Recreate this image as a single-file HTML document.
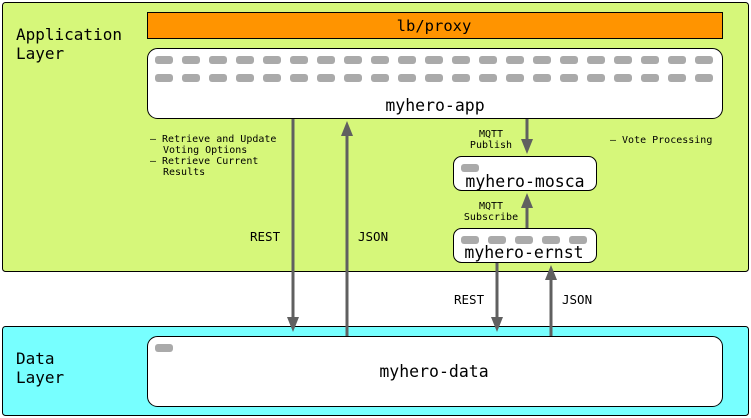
<!DOCTYPE html>
<html><head><meta charset="utf-8"><style>
body{margin:0;background:#fff}
svg{display:block}
text{font-family:"DejaVu Sans Mono","Liberation Mono",monospace;fill:#000}
</style></head><body>
<svg width="751" height="418" viewBox="0 0 751 418" xmlns="http://www.w3.org/2000/svg">
<defs><marker id="a" markerWidth="5" markerHeight="4" refX="2" refY="2" orient="auto" markerUnits="strokeWidth"><path d="M0,0 L5,2 L0,4z" fill="#606060"/></marker></defs>
<rect x="2.5" y="2.5" width="746" height="269" rx="3" fill="#d6f77a" stroke="#000"/>
<rect x="2.5" y="326.5" width="746" height="89" rx="3" fill="#77ffff" stroke="#000"/>
<text x="16" y="40" font-size="16">Application</text>
<text x="16" y="59" font-size="16">Layer</text>
<text x="16" y="364" font-size="16">Data</text>
<text x="16" y="383" font-size="16">Layer</text>
<rect x="147.5" y="12.5" width="575" height="26" fill="#ff9400" stroke="#000"/>
<text x="434" y="31" font-size="15.5" text-anchor="middle">lb/proxy</text>
<rect x="147.5" y="48.5" width="575" height="70" rx="10" fill="#fff" stroke="#000"/>
<g fill="#aaa" id="dr">
<rect x="155" y="56" width="18" height="8" rx="3"/><rect x="182" y="56" width="18" height="8" rx="3"/><rect x="209" y="56" width="18" height="8" rx="3"/><rect x="236" y="56" width="18" height="8" rx="3"/><rect x="263" y="56" width="18" height="8" rx="3"/><rect x="290" y="56" width="18" height="8" rx="3"/><rect x="317" y="56" width="18" height="8" rx="3"/><rect x="344" y="56" width="18" height="8" rx="3"/><rect x="371" y="56" width="18" height="8" rx="3"/><rect x="398" y="56" width="18" height="8" rx="3"/><rect x="425" y="56" width="18" height="8" rx="3"/><rect x="452" y="56" width="18" height="8" rx="3"/><rect x="479" y="56" width="18" height="8" rx="3"/><rect x="506" y="56" width="18" height="8" rx="3"/><rect x="533" y="56" width="18" height="8" rx="3"/><rect x="560" y="56" width="18" height="8" rx="3"/><rect x="587" y="56" width="18" height="8" rx="3"/><rect x="614" y="56" width="18" height="8" rx="3"/><rect x="641" y="56" width="18" height="8" rx="3"/><rect x="668" y="56" width="18" height="8" rx="3"/><rect x="695" y="56" width="18" height="8" rx="3"/>
</g>
<use href="#dr" y="18"/>
<text x="435" y="111" font-size="16.5" text-anchor="middle">myhero-app</text>
<text font-size="10"><tspan x="150" y="142">– Retrieve and Update</tspan><tspan x="163" y="153">Voting Options</tspan><tspan x="150" y="164">– Retrieve Current</tspan><tspan x="163" y="175">Results</tspan></text>
<text x="610" y="143" font-size="10">– Vote Processing</text>
<text font-size="10" text-anchor="middle"><tspan x="491" y="137">MQTT</tspan><tspan x="491" y="148">Publish</tspan><tspan x="491" y="209">MQTT</tspan><tspan x="491" y="220">Subscribe</tspan></text>
<rect x="453.5" y="156.5" width="143" height="34" rx="8" fill="#fff" stroke="#000"/>
<rect x="461" y="164" width="18" height="8" rx="3" fill="#aaa"/>
<text x="525" y="187" font-size="16.5" text-anchor="middle">myhero-mosca</text>
<rect x="453.5" y="228.5" width="143" height="34" rx="8" fill="#fff" stroke="#000"/>
<g fill="#aaa"><rect x="461" y="236" width="18" height="8" rx="3"/><rect x="488" y="236" width="18" height="8" rx="3"/><rect x="515" y="236" width="18" height="8" rx="3"/><rect x="542" y="236" width="18" height="8" rx="3"/><rect x="569" y="236" width="18" height="8" rx="3"/></g>
<text x="524" y="258" font-size="16.5" text-anchor="middle">myhero-ernst</text>
<rect x="147.5" y="336.5" width="575" height="70" rx="10" fill="#fff" stroke="#000"/>
<rect x="155" y="344" width="18" height="8" rx="3" fill="#aaa"/>
<text x="434" y="377" font-size="16.5" text-anchor="middle">myhero-data</text>
<text font-size="12.5"><tspan x="250" y="241">REST</tspan><tspan x="358" y="241">JSON</tspan><tspan x="454" y="304">REST</tspan><tspan x="562" y="304">JSON</tspan></text>
<g stroke="#606060" stroke-width="3" marker-end="url(#a)">
<line x1="293" y1="119" x2="293" y2="323"/>
<line x1="347" y1="336" x2="347" y2="130"/>
<line x1="527" y1="119" x2="527" y2="145"/>
<line x1="527" y1="228" x2="527" y2="202"/>
<line x1="497" y1="263" x2="497" y2="323"/>
<line x1="551" y1="336" x2="551" y2="274"/>
</g>
</svg>
</body></html>
